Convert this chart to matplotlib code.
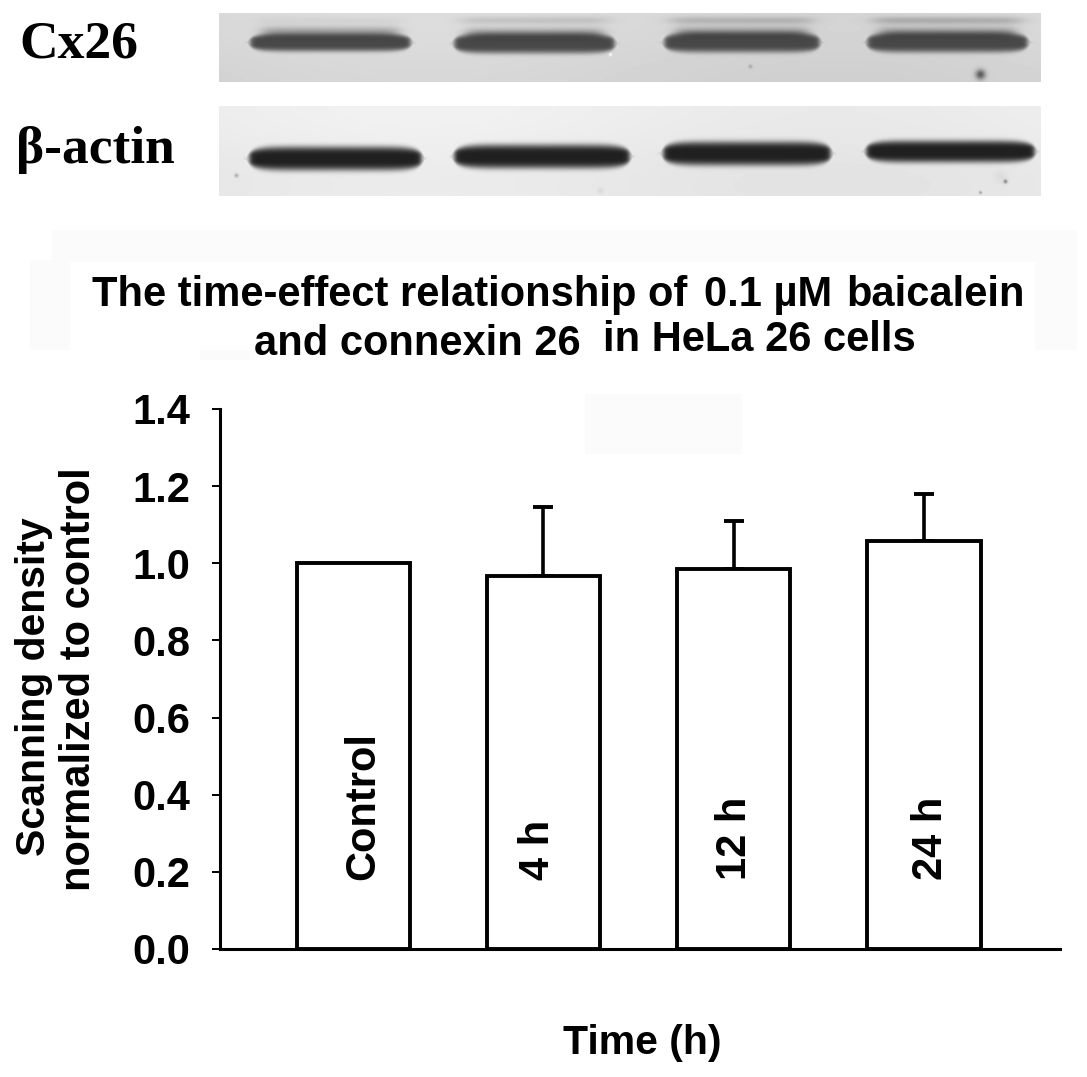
import numpy as np
import matplotlib
matplotlib.use("Agg")
import matplotlib.pyplot as plt
from matplotlib.patches import Rectangle

# ---- chart data ----
categories = ["Control", "4 h", "12 h", "24 h"]
means = [1.0, 0.966, 0.984, 1.058]
err_tops = [1.0, 1.146, 1.11, 1.179]
y_ticks = [0.0, 0.2, 0.4, 0.6, 0.8, 1.0, 1.2, 1.4]
label_dx = [10, -5, 1, 7]

# ---- blot lanes (left, right, centre, half-height) ----
cx26_left = [247, 451, 661, 864]
cx26_right = [413, 617, 822, 1030]
cx26_centre = [42, 43, 42, 42]
cx26_half = [9, 10, 10, 10]
cx26_faint = [0.12, 0.35, 0.5, 0.6]
actin_left = [246, 451, 660, 863]
actin_right = [424, 632, 833, 1037]
actin_centre = [158, 156, 153, 151]
actin_half = [12, 12, 12, 11]
cx26_specks = [(980, 74, 5, 120), (750, 66, 2, 40), (610, 54, 1.5, -40)]
actin_specks = [(236, 175, 2, 60), (1005, 181, 2, 90), (980, 192, 1.5, 70), (600, 190, 3, 15), (1000, 176, 6, 10)]
background_patches = [(52, 230, 1025, 32), (30, 260, 1047, 90), (200, 325, 55, 35), (585, 394, 157, 60)]

plt.rcParams["font.family"] = ["Liberation Sans", "DejaVu Sans"]
W, H = 1087, 1077
fig = plt.figure(figsize=(W / 100, H / 100), dpi=100, facecolor="white")

px = fig.add_axes([0, 0, 1, 1], zorder=0)
px.set_xlim(0, W)
px.set_ylim(H, 0)
px.axis("off")

for (x, y, w, h) in background_patches:
    px.add_patch(Rectangle((x, y), w, h, facecolor="#fbfbfb", edgecolor="none"))
px.add_patch(Rectangle((70, 262), 965, 88, facecolor="white", edgecolor="none"))


def blot(x0, x1, y0, y1, base, lefts, rights, centres, halves, dark, halo, faint, specks):
    X, Y = np.meshgrid(np.arange(x0, x1), np.arange(y0, y1))
    img = base + 4 * np.sin((X - x0) / 130.0) + 3 * np.cos((Y - y0) / 25.0)
    sig = lambda t: 1 / (1 + np.exp(-t))
    for i in range(len(lefts)):
        mid, hw = (lefts[i] + rights[i]) / 2, (rights[i] - lefts[i]) / 2
        hh = halves[i] * np.sqrt(np.clip(1 - ((X - mid) / hw) ** 8, 0.02, 1))
        mask = np.exp(-np.abs((Y - centres[i]) / hh) ** 4) * sig((X - lefts[i] - 3) / 1.5) * sig((rights[i] - 3 - X) / 1.5)
        img = img + (dark - img) * mask
        if halo:
            m2 = np.exp(-((Y - centres[i] + 11) / 5.0) ** 2) * sig((X - lefts[i] - 15) / 4) * sig((rights[i] - 15 - X) / 4)
            img = img - halo * m2
        if faint is not None:
            m3 = np.exp(-((Y - 20) / 4.0) ** 2) * sig((X - lefts[i] - 10) / 6) * sig((rights[i] - 10 - X) / 6)
            img = img - 70 * faint[i] * m3
    for (sx, sy, r, d) in specks:
        img = img - d * np.exp(-(((X - sx) ** 2 + (Y - sy) ** 2) / r ** 2))
    px.imshow(np.clip(img, 0, 255), cmap="gray", vmin=0, vmax=255, extent=(x0, x1, y1, y0),
              aspect="auto", interpolation="bilinear", zorder=1)


blot(219, 1041, 13, 82, 214, cx26_left, cx26_right, cx26_centre, cx26_half, 72, 55, cx26_faint, cx26_specks)
blot(219, 1041, 106, 196, 234, actin_left, actin_right, actin_centre, actin_half, 32, 0, None, actin_specks)
px.set_xlim(0, W)
px.set_ylim(H, 0)

serif = dict(family="Liberation Serif", weight="bold", color="black")
px.text(19, 57, "Cx26", fontsize=38.5, ha="left", va="baseline", **serif)
px.text(16, 163, "β-actin", fontsize=38.5, ha="left", va="baseline", **serif)

tkw = dict(fontsize=30, weight="bold", color="black", va="baseline", ha="left")
px.text(92, 306, "The time-effect relationship of", **tkw)
px.text(704, 306, "0.1 µM", **tkw)
px.text(846, 306, "baicalein", **tkw)
px.text(254, 355, "and connexin 26", **tkw)
px.text(603, 351, "in HeLa 26 cells", **tkw)

# ---- bar chart ----
x_left, x_right, y_bot, y_top = 220, 1060, 949, 409
ax = fig.add_axes([x_left / W, 1 - y_bot / H, (x_right - x_left) / W, (y_bot - y_top) / H], zorder=2)
ax.patch.set_alpha(0)
pos = np.arange(len(categories))
ax.set_xlim(-0.70, 3.715)
ax.set_ylim(0, 1.4)
ax.bar(pos, means, width=0.595, facecolor="white", edgecolor="black", linewidth=2.8, zorder=3)
tops = np.array(err_tops) - np.array(means)
ax.errorbar(pos[1:], means[1:], yerr=[np.zeros(3), tops[1:]], fmt="none", ecolor="black",
            elinewidth=2.6, capsize=7.5, capthick=2.8, zorder=2)

for s in ("top", "right"):
    ax.spines[s].set_visible(False)
for s in ("left", "bottom"):
    ax.spines[s].set_linewidth(2.2)
ax.spines["bottom"].set_zorder(5)
ax.set_xticks([])
ax.set_yticks(y_ticks)
ax.set_yticklabels([f"{v:.1f}" for v in y_ticks], fontsize=30, weight="bold")
ax.tick_params(axis="y", length=5.5, width=1.4, pad=16)

for p, c, dx in zip(pos, categories, label_dx):
    ax.annotate(c, xy=(p, 0), xycoords="data", xytext=(dx, 69), textcoords="offset pixels",
                rotation=90, ha="center", va="bottom", fontsize=30, weight="bold", zorder=6)

px.text(34, 687, "Scanning density", fontsize=29.5, weight="bold", rotation=90, ha="center", va="center")
px.text(79, 679, "normalized to control", fontsize=30, weight="bold", rotation=90, ha="center", va="center")
px.text(642, 1043, "Time (h)", fontsize=29.5, weight="bold", ha="center", va="center")

fig.savefig("out.png", dpi=100, facecolor="white")
